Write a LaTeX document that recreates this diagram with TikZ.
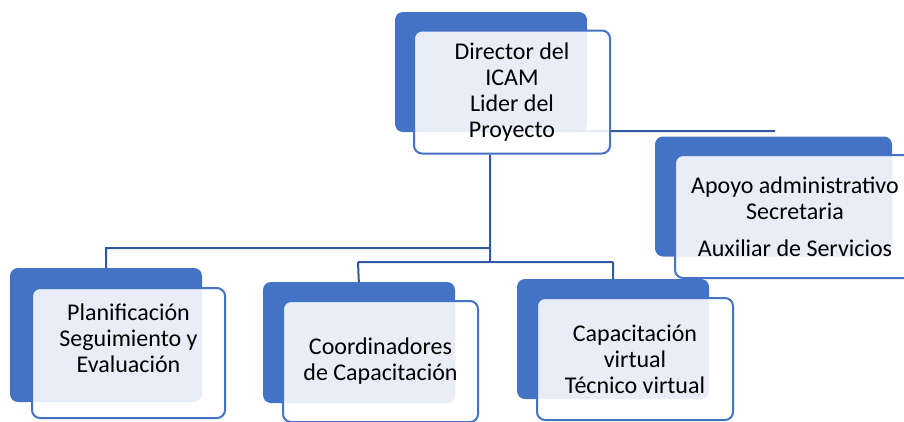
\documentclass[tikz,border=0pt]{standalone}
\usepackage{fontspec}
\setmainfont{Carlito}
\usetikzlibrary{backgrounds}
\definecolor{blu}{HTML}{4472C4}
\definecolor{lin}{HTML}{3158A0}
\begin{document}
\begin{tikzpicture}[x=1pt,y=-1pt]
\tikzstyle{back}=[fill=blu,rounded corners=8pt,minimum width=192pt,minimum height=120pt,inner sep=0pt]
\tikzstyle{front}=[draw=blu,line width=2pt,fill=white,fill opacity=0.88,text opacity=1,rounded corners=8pt,align=center,inner sep=0pt,minimum width=196pt,minimum height=123pt,font=\fontsize{24}{26}\selectfont]
\tikzstyle{link}=[draw=lin,line width=2pt]
\useasboundingbox (0,0) rectangle (904,421);
\node [back] (sa) at (491,72) {};
\node [front] (a) at (512,92) {Director del\\ICAM\\Lider del\\Proyecto};

\node [back,minimum width=237pt] (sb) at (773.5,196.5) {};
\node [front,minimum width=240pt] (b) at (795,216.5) {Apoyo administrativo\\Secretaria\\[11pt]Auxiliar de Servicios};

\node [back,minimum height=134pt] (sc) at (106,335) {};
\node [front,minimum width=193pt,minimum height=130pt,text depth=30pt] (c) at (128.5,353) {Planificación\\Seguimiento y\\Evaluación};

\node [back,minimum height=121pt] (sd) at (359,342.5) {};
\node [front,minimum width=195pt,minimum height=121pt] (d) at (380.5,361.5) {Coordinadores\\de Capacitación};

\node [back] (se) at (613,339) {};
\node [front,minimum height=122pt] (e) at (635,359) {Capacitación\\virtual\\Técnico virtual};

\coordinate (j) at (490,262);
\coordinate (k) at (490,248);
\coordinate (m) at (775,131);
\begin{pgfonlayer}{background}
\path[link]
(a.south -| j) -- (j)
(k) -| ([yshift=-3pt]sc.north)
([xshift=-132pt]j) -- ([xshift=123pt]j)
([xshift=-132pt]j) -- ([yshift=-4pt]sd.north)
([xshift=123pt]j) -- ([yshift=-4pt]se.north)
(m -| j) -- (m);
\end{pgfonlayer}
\end{tikzpicture}
\end{document}
